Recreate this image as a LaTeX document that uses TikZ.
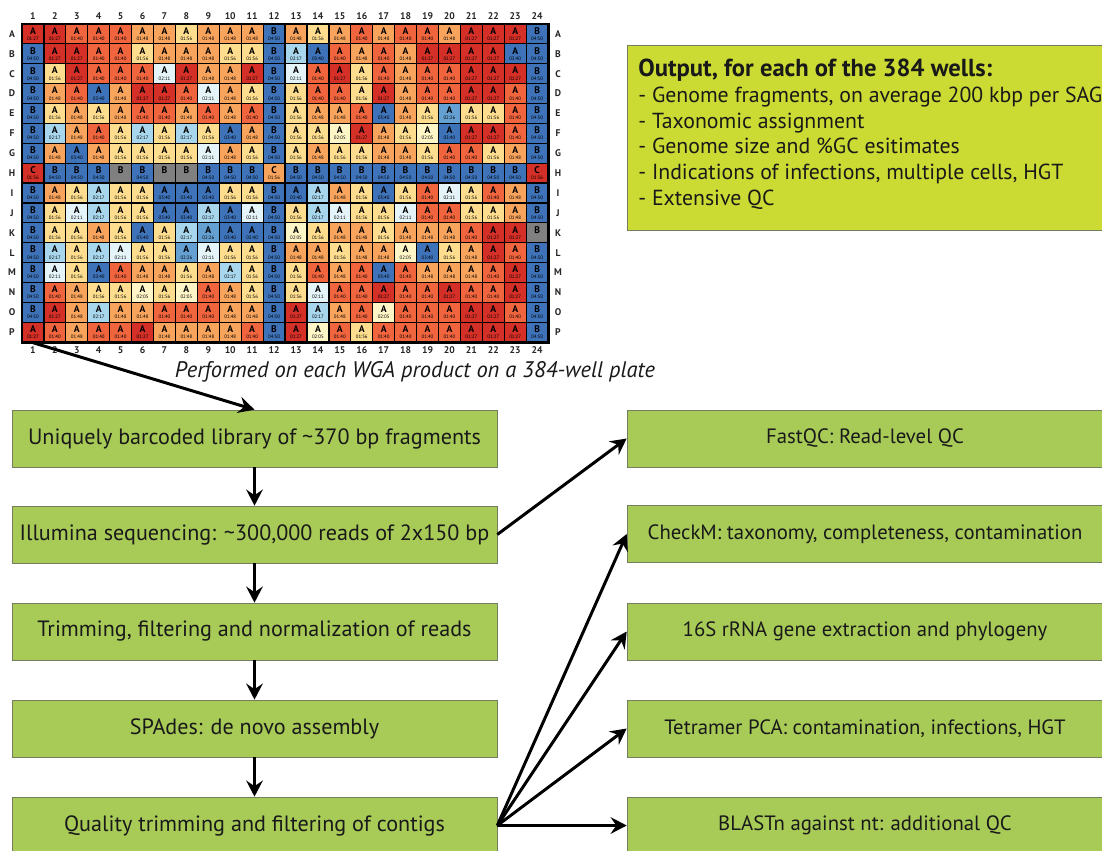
\documentclass[tikz,border=0pt]{standalone}
\usepackage{fontspec}
\setmainfont{PT Sans}
\usepackage{tikz}
\usetikzlibrary{arrows.meta,positioning}

\definecolor{boxgreen}{RGB}{168,203,88}
\definecolor{outgreen}{RGB}{204,219,51}
\definecolor{boxline}{RGB}{115,125,95}
\definecolor{wellR}{RGB}{213,48,39}
\definecolor{wellC}{RGB}{213,48,39}
\definecolor{wellO}{RGB}{240,100,62}
\definecolor{wello}{RGB}{249,164,92}
\definecolor{wellK}{RGB}{249,164,92}
\definecolor{welly}{RGB}{254,222,142}
\definecolor{wellp}{RGB}{255,246,200}
\definecolor{wellw}{RGB}{228,244,248}
\definecolor{welll}{RGB}{168,214,236}
\definecolor{wellm}{RGB}{100,160,210}
\definecolor{wellb}{RGB}{62,115,185}
\definecolor{wellB}{RGB}{62,115,185}
\definecolor{wellg}{RGB}{128,128,128}

% letter and time printed in each well, by colour code
\def\ltR{A}\def\ltO{A}\def\lto{A}\def\lty{A}\def\ltp{A}\def\ltw{A}
\def\ltl{A}\def\ltm{A}\def\ltb{A}\def\ltB{B}\def\ltg{B}\def\ltC{C}\def\ltK{C}
\def\nmR{01:27}\def\nmO{01:40}\def\nmo{01:48}\def\nmy{01:56}\def\nmp{02:05}
\def\nmw{02:11}\def\nml{02:17}\def\nmm{02:26}\def\nmb{03:40}\def\nmB{04:50}
\def\nmC{01:36}\def\nmK{01:56}\def\nmg{}

\begin{document}
\begin{tikzpicture}[x=0.02cm, y=-0.02cm,
  well/.style={draw=black, line width=0.7pt, minimum width=0.4384cm,
    minimum height=0.3976cm, inner sep=0pt, align=center,
    font=\fontsize{5.5}{4.5}\selectfont\bfseries},
  platelbl/.style={font=\fontsize{5.5}{6}\selectfont\bfseries, text=black!85, inner sep=0pt},
  flowbox/.style={draw=boxline, fill=boxgreen, minimum width=9.7cm,
    minimum height=1.14cm, inner sep=0pt, text=black!90,
    font=\fontsize{12.6}{14}\selectfont},
  qcbox/.style={flowbox, minimum width=9.52cm, font=\fontsize{11.8}{14}\selectfont},
  flow/.style={-{Stealth[length=3.2mm,width=3.3mm,inset=1.1mm]}, line width=1.7pt}]
  \useasboundingbox (0,0) rectangle (1102,851);
  \clip (0,0) rectangle (1102,851);

  % 384-well plate
  \foreach \row [count=\j] in {
    {R,R,O,O,O,o,o,y,o,o,o,B,o,y,o,O,o,O,O,o,R,R,R,B},
    {B,R,R,O,O,y,o,o,o,y,y,B,l,b,O,o,O,o,R,R,R,R,b,B},
    {B,y,R,O,O,O,w,R,o,o,R,B,w,O,R,y,O,o,O,O,R,R,R,B},
    {B,o,O,b,o,R,R,O,w,o,y,B,y,O,O,y,R,o,O,O,R,R,O,B},
    {B,y,o,y,o,O,O,o,O,o,O,B,y,o,o,O,b,o,y,m,y,y,O,B},
    {B,l,o,O,y,l,y,l,y,b,o,B,y,y,p,R,o,y,p,b,R,R,O,B},
    {B,o,b,o,y,y,y,y,w,o,y,B,y,o,y,y,o,o,y,O,O,y,o,B},
    {C,B,B,B,g,B,g,g,B,B,B,K,B,B,B,B,B,B,B,B,B,B,B,C},
    {B,o,y,l,y,y,b,b,b,y,y,B,b,l,o,y,b,y,O,w,y,O,o,B},
    {B,y,w,l,y,y,b,b,l,b,w,B,y,l,w,y,y,w,O,O,y,y,o,B},
    {B,y,y,o,y,b,y,l,m,b,b,B,p,y,o,o,y,o,o,o,O,R,R,g},
    {B,l,y,l,w,y,y,m,w,y,y,B,o,o,y,o,o,p,b,y,o,R,O,B},
    {B,w,y,b,O,o,o,y,o,l,y,B,y,O,o,O,b,O,o,o,o,O,R,B},
    {B,O,o,y,y,p,y,p,O,o,y,B,y,w,O,O,R,O,O,R,O,O,R,B},
    {B,R,o,l,o,o,O,O,O,o,o,B,R,l,o,O,p,O,O,O,R,R,O,B},
    {R,O,o,O,O,R,o,o,o,o,O,B,R,p,O,y,O,O,O,O,R,R,R,B}}{
    \foreach \k [count=\i] in \row {
      \node[well, fill=well\k] (w-\j-\i) at ({22+(\i-0.5)*21.92},{24+(\j-0.5)*19.88})
        {\csname lt\k\endcsname\\[-1pt]{\fontsize{2.8}{3}\selectfont\mdseries\csname nm\k\endcsname}};
    }
  }
  \draw[line width=1pt] (w-1-1.north west) rectangle (w-16-24.south east);
  \foreach \r [count=\j] in {A,B,C,D,E,F,G,H,I,J,K,L,M,N,O,P}{
    \node[platelbl] (rl-\j) at (12,{24+(\j-0.5)*19.88}) {\r};
    \node[platelbl] (rr-\j) at (558,{24+(\j-0.5)*19.88}) {\r};
  }
  \foreach \i in {1,...,24}{
    \node[platelbl] (ct-\i) at ({22+(\i-0.5)*21.92},16) {\i};
    \node[platelbl] (cb-\i) at ({22+(\i-0.5)*21.92},350) {\i};
  }

  \node[font=\fontsize{12.8}{14}\selectfont\itshape, text=black!90] (cap) at (415,372)
    {Performed on each WGA product on a 384-well plate};

  % output summary
  \node[draw=boxline, fill=outgreen, minimum width=9.7cm, minimum height=3.7cm,
    anchor=north west] (out) at (627,45) {};
  \node[anchor=north west, align=left, inner sep=0pt, text=black!90,
    font=\fontsize{12.4}{14.6}\selectfont] (outtxt) at (638,59)
    {{\fontsize{14}{14.6}\selectfont\bfseries Output, for each of the 384 wells:}\\
     - Genome fragments, on average 200 kbp per SAG\\
     - Taxonomic assignment\\
     - Genome size and \%GC esitimates\\
     - Indications of infections, multiple cells, HGT\\
     - Extensive QC};

  % pipeline
  \node[flowbox] (lib) at (254.5,438.5) {Uniquely barcoded library of \textasciitilde370 bp fragments};
  \node[flowbox] (seq) at (254.5,534.5) {Illumina sequencing: \textasciitilde300,000 reads of 2x150 bp};
  \node[flowbox] (trim) at (254.5,631.5) {Trimming, filtering and normalization of reads};
  \node[flowbox] (spades) at (254.5,728.5) {SPAdes: de novo assembly};
  \node[flowbox] (qual) at (254.5,825.5) {Quality trimming and filtering of contigs};

  \node[qcbox] (fastqc) at (865,438.5) {FastQC: Read-level QC};
  \node[qcbox] (checkm) at (865,534) {CheckM: taxonomy, completeness, contamination};
  \node[qcbox] (rrna) at (865,631.5) {16S rRNA gene extraction and phylogeny};
  \node[qcbox] (tetra) at (865,728.5) {Tetramer PCA: contamination, infections, HGT};
  \node[qcbox] (blast) at (865,825.5) {BLASTn against nt: additional QC};

  \begin{scope}[flow]
    \draw (w-16-1.south) -- (lib.north);
    \draw (lib) -- (seq);
    \draw (seq) -- (trim);
    \draw (trim) -- (spades);
    \draw (spades) -- (qual);
    \draw (seq.east) -- (fastqc.west);
    \draw (qual.east) -- (checkm.west);
    \draw (qual.east) -- (rrna.west);
    \draw (qual.east) -- (tetra.west);
    \draw (qual.east) -- (blast.west);
  \end{scope}
\end{tikzpicture}
\end{document}
